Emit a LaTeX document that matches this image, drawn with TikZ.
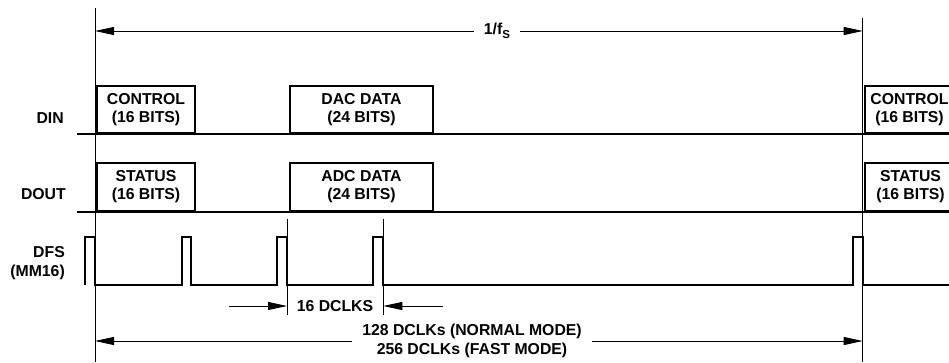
\documentclass[tikz,border=0pt]{standalone}
\usepackage{fontspec}
\setmainfont{Liberation Sans}
\usetikzlibrary{arrows.meta}
\begin{document}
\begin{tikzpicture}[x=1pt,y=-1pt,
  lbl/.style={font=\bfseries\fontsize{15.8}{18.6}\selectfont, align=center, inner sep=0pt},
  sig/.style={line width=2pt},
  guide/.style={line width=0.8pt},
  box/.style={draw, line width=2pt, inner sep=0pt, anchor=south west, lbl, minimum height=47pt},
  dim/.style={line width=0.9pt, -{Triangle[length=19pt,width=8pt]}}]
\useasboundingbox (0,0) rectangle (949,362);
\clip (0,0) rectangle (949,362);
% guide lines
\coordinate (gLt) at (95,8);
\coordinate (gLb) at (95,362);
\coordinate (gRt) at (862.7,18);
\coordinate (gRb) at (862.7,362);
\draw[guide] (gLt) -- (gLb);
\draw[guide] (gRt) -- (gRb);
% signal labels
\node[lbl, anchor=east, align=right] (ldin) at (64,118) {DIN};
\node[lbl, anchor=east, align=right] (ldout) at (66,194) {DOUT};
\node[lbl, anchor=east, align=right] (ldfs) at (65,263) {DFS\\(MM16)};
% DIN
\node[box, minimum width=98pt] (c1) at (96,134) {CONTROL\\(16 BITS)};
\node[box, minimum width=143pt] (dac) at (289,134) {DAC DATA\\(24 BITS)};
\node[box, minimum width=89pt] (c2) at (864,134) {CONTROL\\(16 BITS)};
\draw[sig] (77,134) -- (960,134);
% DOUT
\node[box, minimum width=98pt, minimum height=48pt] (s1) at (96,211.7) {STATUS\\(16 BITS)};
\node[box, minimum width=143pt, minimum height=48pt] (adc) at (289,211.7) {ADC DATA\\(24 BITS)};
\node[box, minimum width=91pt, minimum height=48pt] (s2) at (864,211.7) {STATUS\\(16 BITS)};
\draw[sig] (77,211.7) -- (960,211.7);
% DFS waveform
\draw[sig, line join=miter] (84.5,285.3) -- (84.5,237.3) -- (95,237.3) -- (95,285.3)
  -- (181.5,285.3) -- (181.5,237.3) -- (190.8,237.3) -- (190.8,285.3)
  -- (276.7,285.3) -- (276.7,237.3) -- (286.5,237.3) -- (286.5,285.3)
  -- (373.3,285.3) -- (373.3,237.3) -- (382.8,237.3) -- (382.8,285.3)
  -- (852.7,285.3) -- (852.7,237.3) -- (862.7,237.3) -- (862.7,285.3)
  -- (960,285.3);
% tick lines
\coordinate (t1a) at (287,219); \coordinate (t1b) at (287,315);
\coordinate (t2a) at (383.3,219); \coordinate (t2b) at (383.3,315);
\draw[guide] (t1a) -- (t1b);
\draw[guide] (t2a) -- (t2b);
% 16 DCLKS
\node[lbl] (d16) at (335,306) {16 DCLKS};
\coordinate (d16l) at (229,306); \coordinate (d16lt) at (287,306);
\coordinate (d16r) at (443,306); \coordinate (d16rt) at (383.3,306);
\draw[dim] (d16l) -- (d16lt);
\draw[dim] (d16r) -- (d16rt);
% top 1/fS
\node[lbl, inner xsep=10pt] (fs) at (497,31) {1/f\raisebox{-3.5pt}{\fontsize{11.5}{12}\selectfont S}};
\draw[dim] (fs.west) -- (fs.west -| gLt);
\draw[dim] (fs.east) -- (fs.east -| gRt);
% bottom
\node[lbl, inner xsep=10pt] (mode) at (472,341) {128 DCLKs (NORMAL MODE)\\256 DCLKs (FAST MODE)};
\draw[dim] (mode.west) -- (mode.west -| gLt);
\draw[dim] (mode.east) -- (mode.east -| gRt);
\end{tikzpicture}
\end{document}
